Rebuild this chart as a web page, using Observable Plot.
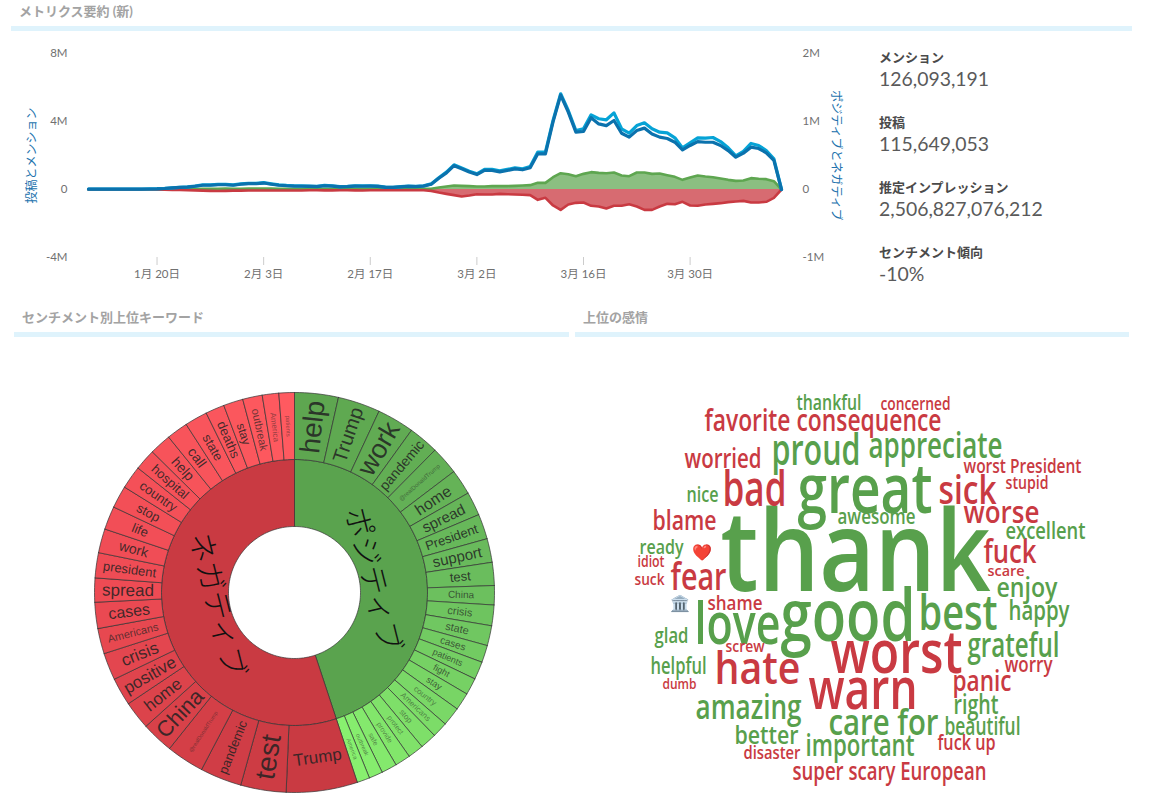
<!DOCTYPE html>
<html lang="ja"><head><meta charset="utf-8">
<script src="https://cdn.jsdelivr.net/npm/d3@7"></script>
<script src="https://cdn.jsdelivr.net/npm/@observablehq/plot@0.6"></script>
<style>
html,body{margin:0;padding:0;background:#fff;width:1150px;height:810px;overflow:hidden;font-family:Lato,"Noto Sans CJK JP",sans-serif}
.abs{position:absolute}
.head{position:absolute;font-size:13px;font-weight:700;color:#a3a3a3;white-space:nowrap}
.band{position:absolute;height:5px;background:#dff3fc}
.lab{position:absolute;left:879px;font-size:13px;font-weight:700;color:#4a4a4a;white-space:nowrap}
.val{position:absolute;left:879px;font-size:19.4px;color:#5a5a5a;white-space:nowrap}
svg{overflow:visible}
</style></head><body>
<div class="head" style="left:19px;top:1px">メトリクス要約 (新)</div>
<div class="band" style="left:11px;top:26px;width:1121px"></div>
<div class="head" style="left:22px;top:307px">センチメント別上位キーワード</div>
<div class="head" style="left:583px;top:307px">上位の感情</div>
<div class="band" style="left:14px;top:332px;width:555px"></div>
<div class="band" style="left:575px;top:332px;width:554px"></div>
<div id="stats"></div>
<div id="line" class="abs" style="left:0;top:0"></div>
<div id="sun" class="abs" style="left:84px;top:382px"></div>
<div id="cloud" class="abs" style="left:600px;top:380px"></div>
<script>
// ---- headline metrics
const statLabels=["メンション","投稿","推定インプレッション","センチメント傾向"];
const statValues=["126,093,191","115,649,053","2,506,827,076,212","-10%"];
// ---- daily series, Jan 11 – Apr 11 2020 (millions)
const startDate=new Date(2020,0,11);
const mentions=[.03,.03,.03,.03,.03,.03,.03,.03,.04,.05,.07,.10,.13,.15,.2,.27,.27,.3,.3,.27,.33,.36,.36,.4,.33,.27,.24,.22,.21,.2,.18,.24,.22,.17,.19,.22,.21,.22,.2,.14,.13,.17,.2,.19,.22,
.33,.69,1.02,1.45,1.27,1.08,.92,1.18,1.18,1.10,1.18,1.27,1.22,1.35,2.2,2.2,4.06,5.63,4.65,3.47,3.57,4.39,4.16,4.10,4.51,3.57,3.31,3.76,3.92,3.57,3.37,3.33,3.04,2.45,2.75,3.04,3.02,3.06,2.82,2.45,1.98,2.25,2.71,2.59,2.29,1.80,0];
const posts=[.02,.02,.02,.02,.02,.02,.02,.02,.03,.04,.06,.09,.12,.14,.19,.25,.25,.28,.28,.25,.31,.34,.34,.38,.31,.25,.22,.2,.19,.18,.17,.22,.2,.15,.17,.2,.19,.2,.18,.13,.12,.15,.18,.17,.2,
.31,.66,.98,1.4,1.22,1.03,.88,1.12,1.12,1.04,1.12,1.21,1.16,1.28,2.1,2.1,3.98,5.55,4.55,3.37,3.41,4.22,3.86,3.76,4.06,3.31,3.08,3.47,3.61,3.27,3.08,3,2.78,2.33,2.59,2.82,2.78,2.78,2.59,2.29,1.9,2.14,2.49,2.41,2.16,1.71,0];
const positive=[0,0,0,0,0,0,0,0,0,.001,.002,.003,.005,.006,.008,.01,.012,.012,.013,.012,.012,.013,.014,.013,.013,.012,.012,.011,.011,.01,.01,.011,.011,.01,.01,.011,.011,.011,.01,.009,.009,.01,.01,.01,.01,
.01,.03,.044,.059,.054,.049,.044,.044,.049,.049,.049,.054,.059,.064,.098,.098,.181,.24,.225,.196,.23,.255,.245,.24,.25,.206,.196,.25,.25,.23,.235,.21,.186,.142,.176,.206,.191,.181,.162,.142,.127,.132,.167,.157,.152,.123,0];
const negative=[0,0,0,0,0,0,0,0,0,-.001,-.003,-.005,-.008,-.01,-.013,-.016,-.02,-.022,-.02,-.016,-.016,-.014,-.014,-.014,-.014,-.014,-.015,-.015,-.014,-.012,-.012,-.013,-.013,-.012,-.012,-.013,-.014,-.012,-.012,-.01,-.01,-.012,-.012,-.012,-.012,
-.02,-.044,-.064,-.083,-.103,-.088,-.069,-.074,-.074,-.064,-.069,-.074,-.078,-.083,-.152,-.123,-.235,-.299,-.221,-.196,-.191,-.24,-.25,-.279,-.24,-.24,-.216,-.25,-.299,-.299,-.25,-.211,-.216,-.181,-.235,-.24,-.221,-.211,-.201,-.186,-.176,-.167,-.191,-.191,-.181,-.123,0];
const tickDates=[[0,20],[1,3],[1,17],[2,2],[2,16],[2,30]].map(([m,d])=>new Date(2020,m,d));
const leftTicks=[-4,0,4,8];
const rightRatio=4; // right axis is drawn at 1/4 of the left axis
// ---- sunburst
const posWords=["help","Trump","work","pandemic","@realDonaldTrump","home","spread","President","support","test","China","crisis","state","cases","patients","fight","stay","country","Americans","stop","protect","provide","safe","outbreak","America"];
const posShare=[12.7,12.3,10.8,8.8,8.2,7.4,6.9,7.3,6.9,6.7,5.6,6,5.8,5,5.2,4.9,5.1,5.5,4.5,4.8,4.6,4.5,4.5,4,3.7];
const negWords=["Trump","test","pandemic","@realDonaldTrump","China","home","positive","crisis","Americans","cases","spread","president","work","life","stop","country","hospital","help","call","state","deaths","stay","outbreak","America","patients"];
const negShare=[20.7,13.2,12.1,11,9.3,8.2,8.1,7.9,7.4,7.6,7,7.3,7,6.8,6.5,6.7,6.2,6.3,6.2,6.6,5.5,5.7,5.7,4.8,4.5];
const posLabelSize=[28,20,27,14,6,16,15,13,15,13,10,11,11,10,9,9,9,8,8,8,7,7,7,6,6];
const negLabelSize=[17,28,13,5.5,22,17,17,17,11,16,17,13,14,13,13,13,13,14,14,13,13,12,11,8,6];
const cloudWords=["thank","great","good","worst","warn","love","hate","best","bad","proud","sick","fear","appreciate","care for","amazing","grateful","worse","fuck","consequence","favorite","important","worried","panic","blame","right","enjoy","happy","better","beautiful","super scary European","excellent","helpful","awesome","glad","worry","nice","thankful","worst President","shame","ready","fuck up","stupid","concerned","disaster","screw","idiot","suck","dumb","scare"];
const cloudPositive=["thank","great","good","love","best","proud","appreciate","care for","amazing","grateful","important","right","enjoy","happy","better","beautiful","excellent","helpful","awesome","glad","nice","thankful","ready"];
const cloudWeight=[112,68,72,60,58,58,46,48,48,44,40,38,36,36,34,34,30,32,30,30,30,27,28,27,27,27,27,26,25,25,24,24,22,22,21,21,21,19,20,20,21,18,18,18,16,17,17,15,15];
const cloudWide=[270,135,135,132,109,86,86,79,64,89,58,56,134,110,106,92,76,53,145,86,109,77,59,64,45,61,61,64,76,194,80,56,78,34,48,32,65,118,55,44,58,43,70,57,39,27,30,34,37];
const cloudX=[855,864.5,847.5,896,862.5,737,757,957.5,754,815.5,967,698,935,883,748,1013,1001,1009.5,868.5,747,859.5,722.5,981.5,684,975.5,1026.5,1038.5,766,982,889,1045,678,876,671,1028,702,828.5,1022,734.5,661,966,1026.5,915,771.5,744.5,650.5,649,679,1005.5];
const cloudY=[555,491,617,653,690,625,669,614,490,450,491,577,446,723,708,646,513,552,421,421,746,459,682,521,705,588,611,735,726,771,531,666,516,635,665,495,403,466,603,547,743,483,404,753,646,561,579,684,571];
const cloudIcons=["❤️","🏛️"];
const cloudIconX=[701,679];
const cloudIconY=[552,603];
const cloudIconSize=[16,16];

// ---- line chart
const days=mentions.map((_,i)=>d3.timeDay.offset(startDate,i));
const rows=days.map((date,i)=>({date,mentions:mentions[i],posts:posts[i],pos:positive[i]*rightRatio,neg:negative[i]*rightRatio}));
const lineChart=Plot.plot({
  width:860,height:290,marginTop:53,marginBottom:33,marginLeft:72,marginRight:63,
  style:{fontFamily:'Lato,"Noto Sans CJK JP",sans-serif',fontSize:"11.5px",background:"transparent",overflow:"visible"},
  x:{type:"time",domain:[startDate,days[days.length-1]],range:[88,781]},
  y:{domain:[-4,8]},
  marks:[
    Plot.axisX({ticks:tickDates,tickSize:8,tickPadding:4,stroke:"#ccc",fill:"#707070",tickFormat:d=>`${d.getMonth()+1}月 ${d.getDate()}日`,label:null}),
    Plot.axisY({anchor:"left",ticks:leftTicks,tickSize:0,tickPadding:5,fill:"#707070",tickFormat:d=>d===0?"0":`${d}M`,label:null}),
    Plot.axisY({anchor:"right",ticks:leftTicks,tickSize:0,tickPadding:5,fill:"#707070",tickFormat:d=>d===0?"0":`${d/rightRatio}M`,label:null}),
    Plot.areaY(rows,{x:"date",y:"pos",fill:"#5ea650",fillOpacity:.72}),
    Plot.areaY(rows,{x:"date",y:"neg",fill:"#c93a42",fillOpacity:.75}),
    Plot.lineY(rows,{x:"date",y:"pos",stroke:"#5ea650",strokeWidth:2.6}),
    Plot.lineY(rows,{x:"date",y:"neg",stroke:"#c93a42",strokeWidth:2.6}),
    Plot.lineY(rows,{x:"date",y:"mentions",stroke:"#06a3d6",strokeWidth:3.2}),
    Plot.lineY(rows,{x:"date",y:"posts",stroke:"#0b72ad",strokeWidth:3.2}),
    Plot.text(["投稿とメンション"],{frameAnchor:"left",textAnchor:"middle",dx:-40,rotate:-90,fill:"#2272ad",fontSize:12}),
    Plot.text(["ポジティブとネガティブ"],{frameAnchor:"right",textAnchor:"middle",dx:38,rotate:90,fill:"#2272ad",fontSize:12})
  ]
});
document.getElementById("line").append(lineChart);

// ---- stats
const statsEl=document.getElementById("stats");
statLabels.forEach((t,i)=>{
  const top=49+i*65;
  statsEl.insertAdjacentHTML("beforeend",`<div class="lab" style="top:${top-2}px">${t}</div><div class="val" style="top:${top+18}px">${statValues[i]}</div>`);
});

// ---- sunburst built from shares
const HOLE=66,MID=133,OUTER=200;
const ptAt=(r,deg)=>{const a=deg*Math.PI/180;return {x:r*Math.sin(a),y:-r*Math.cos(a)};};
function sector(id,r0,r1,a0,a1,fill){
  const n=Math.max(2,Math.ceil((a1-a0)/1.5));
  const outer=d3.range(n+1).map(i=>ptAt(r1,a0+(a1-a0)*i/n));
  const inner=d3.range(n+1).map(i=>ptAt(r0,a1-(a1-a0)*i/n));
  return [...outer,...inner,outer[0]].map(p=>({...p,id,fill}));
}
const posTotal=d3.sum(posShare),negTotal=d3.sum(negShare),allTotal=posTotal+negTotal;
const toDeg=v=>v/allTotal*360;
const posColor=d3.scaleLinear().domain([0,9,24]).range(["#5ea650","#6abd5d","#88f06f"]);
const negColor=d3.scaleLinear().domain([0,10,24]).range(["#c93a42","#ee4b54","#ff5a60"]);
let polys=[],labels=[];
polys.push(...sector("in+",HOLE,MID,0,toDeg(posTotal),"#5aa34e"));
polys.push(...sector("in-",HOLE,MID,toDeg(posTotal),360,"#c93a42"));
let cum=0;
function addRing(words,shares,sizes,color,prefix,rot){
  words.forEach((w,i)=>{
    const a0=toDeg(cum),a1=toDeg(cum+shares[i]),mid=(a0+a1)/2;cum+=shares[i];
    polys.push(...sector(prefix+i,MID,OUTER,a0,a1,color(i)));
    const p=ptAt((MID+OUTER)/2,mid);
    labels.push({word:w,x:p.x,y:p.y,size:sizes[i],fade:sizes[i]<9?.5:sizes[i]<12?.7:.85,rotate:(a1-a0)>20?mid-180:rot(mid)});
  });
}
addRing(posWords,posShare,posLabelSize,posColor,"p",m=>m-90);
addRing(negWords,negShare,negLabelSize,negColor,"n",m=>m-270);
const ringMidPos=toDeg(posTotal)/2,ringMidNeg=(toDeg(posTotal)+360)/2;
const groupLabels=[
  {word:"ポジティブ",...ptAt(79,ringMidPos),rotate:ringMidPos-5},
  {word:"ネガティブ",...ptAt(79,ringMidNeg),rotate:ringMidNeg-185}
];
const sun=Plot.plot({
  width:420,height:420,margin:0,
  style:{background:"transparent",overflow:"visible",fontFamily:'"Liberation Sans",Arial,sans-serif'},
  opacity:{type:"identity"},
  x:{domain:[-210,210],axis:null},y:{domain:[210,-210],axis:null},
  marks:[
    Plot.line(polys,{x:"x",y:"y",z:"id",fill:"fill",stroke:"#333",strokeWidth:.7,curve:"linear"}),
    Plot.text(labels,{x:"x",y:"y",text:"word",rotate:"rotate",fontSize:"size",fill:"#222",fillOpacity:"fade"}),
    Plot.text(groupLabels,{x:"x",y:"y",text:"word",rotate:"rotate",fontSize:30,fill:"#111",fontWeight:300,fontFamily:'"Noto Sans CJK JP"'})
  ]
});
document.getElementById("sun").append(sun);

// ---- word cloud
const cloudRows=cloudWords.map((w,i)=>({word:w,weight:cloudWeight[i],wide:cloudWide[i],x:cloudX[i],y:cloudY[i],
  color:cloudPositive.includes(w)?"#58a04c":"#c93a42"}));
const iconRows=cloudIcons.map((w,i)=>({word:w,x:cloudIconX[i],y:cloudIconY[i],size:cloudIconSize[i]}));
const cloud=Plot.plot({
  width:550,height:430,margin:0,
  style:{background:"transparent",overflow:"visible",fontFamily:'"Open Sans","Noto Sans",sans-serif'},
  x:{domain:[600,1150],axis:null},y:{domain:[810,380],axis:null},
  marks:[
    Plot.text(cloudRows,{x:"x",y:"y",text:"word",fontSize:"weight",fill:"color",fontWeight:600,lineAnchor:"middle",className:"cloudword"}),
    Plot.text(iconRows,{x:"x",y:"y",text:"word",fontSize:"size",lineAnchor:"middle"})
  ]
});
document.getElementById("cloud").append(cloud);
// squeeze every word to the width it has in the cloud
cloud.querySelectorAll(".cloudword text").forEach(t=>{
  const row=cloudRows.find(r=>r.word===t.textContent);
  if(row){t.setAttribute("textLength",row.wide);t.setAttribute("lengthAdjust","spacingAndGlyphs");}
});
</script></body></html>
